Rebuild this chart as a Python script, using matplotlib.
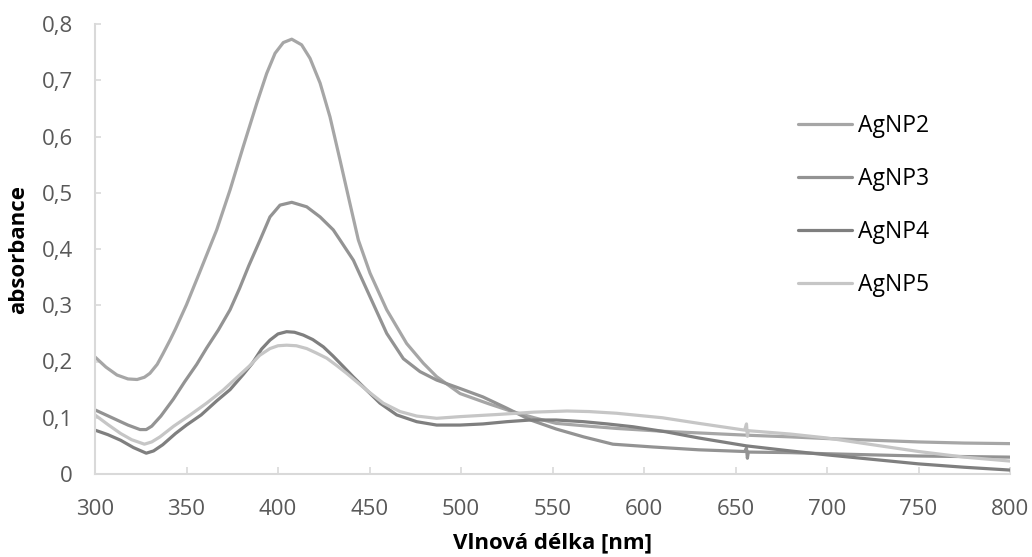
import matplotlib
matplotlib.use("Agg")
import matplotlib.pyplot as plt
from matplotlib.ticker import FuncFormatter

# odečtené hodnoty spekter (vlnová délka nm, absorbance)
x_agnp2 = [300, 306, 312, 318, 323, 327, 330, 334, 337, 341, 344, 350, 357, 366.5, 373.8, 381, 388.4,
           393.8, 398.4, 402.9, 407.5, 412.9, 417.5, 423, 428.4, 433.9, 439.3, 443.9, 450.3, 459.4,
           470.3, 479.4, 486.7, 499.5, 515, 528, 540, 552, 570, 585, 610, 630, 656, 680, 700, 725,
           750, 775, 800]
y_agnp2 = [0.208, 0.190, 0.176, 0.169, 0.168, 0.172, 0.179, 0.195, 0.213, 0.238, 0.258, 0.301, 0.357,
           0.434, 0.505, 0.582, 0.659, 0.712, 0.748, 0.767, 0.773, 0.763, 0.739, 0.695, 0.635, 0.558,
           0.481, 0.416, 0.357, 0.292, 0.232, 0.197, 0.173, 0.143, 0.125, 0.111, 0.100, 0.090, 0.085,
           0.081, 0.076, 0.073, 0.069, 0.066, 0.063, 0.060, 0.057, 0.055, 0.054]

x_agnp3 = [300, 306, 312, 318, 324.6, 328, 331, 336, 342.8, 349, 355.6, 361, 367.4, 373.8, 379, 384,
           390.2, 395.6, 401.1, 407.5, 415.7, 423, 430.2, 433.9, 441.2, 450.3, 459.4, 468.5, 477.6,
           486.7, 499.5, 512, 525, 538, 552, 567, 583, 605, 630, 655, 656, 656.5, 657, 680, 700, 750,
           800]
y_agnp3 = [0.114, 0.105, 0.096, 0.087, 0.079, 0.079, 0.085, 0.103, 0.133, 0.164, 0.195, 0.224, 0.256,
           0.292, 0.330, 0.370, 0.416, 0.457, 0.478, 0.483, 0.475, 0.457, 0.434, 0.416, 0.380, 0.315,
           0.250, 0.205, 0.182, 0.167, 0.152, 0.137, 0.117, 0.096, 0.080, 0.066, 0.053, 0.048, 0.043,
           0.040, 0.046, 0.028, 0.039, 0.038, 0.036, 0.032, 0.030]

x_agnp4 = [300, 307, 314, 321, 328, 332, 337, 344, 350, 358, 366.5, 373.8, 381, 386, 391, 395.6, 400,
           404.7, 409, 413.8, 419, 424.8, 430, 435.7, 441, 446.6, 455.7, 464.9, 475.8, 486.7, 499.5,
           512, 525, 538, 552, 567, 580, 594, 612, 630, 656, 680, 700, 725, 750, 775, 800]
y_agnp4 = [0.078, 0.070, 0.060, 0.047, 0.037, 0.041, 0.052, 0.072, 0.087, 0.105, 0.130, 0.150, 0.177,
           0.197, 0.222, 0.238, 0.249, 0.253, 0.252, 0.247, 0.239, 0.226, 0.210, 0.191, 0.173, 0.155,
           0.126, 0.105, 0.093, 0.087, 0.087, 0.089, 0.093, 0.096, 0.096, 0.093, 0.089, 0.084, 0.075,
           0.064, 0.050, 0.041, 0.034, 0.026, 0.018, 0.012, 0.007]

x_agnp5 = [300, 307, 314, 320, 327, 331, 335.5, 343, 352, 361, 370, 377, 384.7, 390, 395.6, 400, 404.7,
           410, 415.7, 421, 426.6, 432, 437.5, 443, 448.5, 457.5, 466.7, 475.8, 486.7, 499.5, 521,
           540, 558, 570, 585, 610, 630, 655, 656, 656.5, 657, 680, 700, 725, 750, 775, 800]
y_agnp5 = [0.105, 0.088, 0.072, 0.061, 0.053, 0.057, 0.066, 0.085, 0.105, 0.126, 0.149, 0.170, 0.193,
           0.211, 0.223, 0.228, 0.229, 0.228, 0.223, 0.215, 0.206, 0.193, 0.179, 0.164, 0.149, 0.126,
           0.111, 0.103, 0.099, 0.102, 0.106, 0.110, 0.112, 0.111, 0.108, 0.100, 0.090, 0.078, 0.089,
           0.067, 0.077, 0.071, 0.064, 0.052, 0.040, 0.030, 0.023]

nazvy = ["AgNP2", "AgNP3", "AgNP4", "AgNP5"]
barvy = ["#a6a6a6", "#939393", "#7f7f7f", "#c6c6c6"]

plt.rcParams['font.family'] = ['Open Sans', 'DejaVu Sans']

fig = plt.figure(figsize=(10.32, 5.57), dpi=100)
ax = fig.add_axes([95/1032, 1 - 474/557, 915/1032, 450/557])

data = [(x_agnp2, y_agnp2), (x_agnp3, y_agnp3), (x_agnp4, y_agnp4), (x_agnp5, y_agnp5)]
for (xs, ys), nazev, barva in zip(data, nazvy, barvy):
    ax.plot(xs, ys, color=barva, lw=2.3, label=nazev, solid_capstyle='round', solid_joinstyle='round')

ax.set_xlim(300, 800)
ax.set_ylim(0, 0.8)
ax.set_xticks(range(300, 801, 50))
ax.set_yticks([i / 10 for i in range(9)])
ax.yaxis.set_major_formatter(FuncFormatter(lambda v, p: "0" if v == 0 else f"{v:.1f}".replace(".", ",")))

for s in ["top", "right"]:
    ax.spines[s].set_visible(False)
for s in ["left", "bottom"]:
    ax.spines[s].set_color("#d9d9d9")
    ax.spines[s].set_linewidth(1.5)

ax.tick_params(axis="x", direction="in", length=5, width=1.2, color="#d9d9d9",
               labelsize=16, labelcolor="#595959", pad=18)
ax.tick_params(axis="y", direction="in", length=4, width=1.2, color="#d9d9d9",
               labelsize=16, labelcolor="#595959", pad=16)

ax.set_xlabel("Vlnová délka [nm]", fontsize=16, fontweight="bold", color="black")
ax.xaxis.set_label_coords(0.5, -0.13)
ax.set_ylabel("absorbance", fontsize=16, fontweight="bold", color="black")
ax.yaxis.set_label_coords(-0.072, 0.5)

fig.legend(loc="upper left", bbox_to_anchor=(798/1032, 1 - 114/557), frameon=False,
           fontsize=16.5, handlelength=2.36, handletextpad=0.26, labelspacing=1.27,
           borderpad=0, borderaxespad=0)

fig.savefig("out.png", dpi=100)
